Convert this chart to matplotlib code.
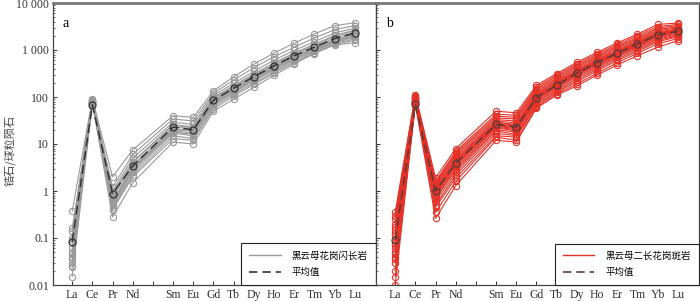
import matplotlib.pyplot as plt
import numpy as np
from matplotlib.ticker import FixedLocator, LogLocator, NullFormatter
from matplotlib.lines import Line2D

plt.rcParams['font.family'] = ['Liberation Serif', 'Noto Sans CJK SC', 'DejaVu Sans']

elements = ["La", "Ce", "Pr", "Nd", "Sm", "Eu", "Gd", "Tb", "Dy", "Ho", "Er", "Tm", "Yb", "Lu"]
positions = [0, 1, 2, 3, 5, 6, 7, 8, 9, 10, 11, 12, 13, 14]

# panel a: biotite granodiorite zircons
samples_a = [
    [0.37, 92, 2.0, 7.5, 40, 37, 135, 270, 500, 860, 1400, 2200, 3300, 3800],
    [0.16, 88, 1.2, 6.0, 34, 31, 120, 230, 420, 720, 1150, 1800, 2700, 3300],
    [0.14, 86, 1.0, 5.0, 29, 26, 108, 195, 350, 610, 980, 1500, 2300, 2900],
    [0.10, 84, 0.9, 4.2, 26, 23, 98, 175, 310, 530, 870, 1320, 2050, 2650],
    [0.09, 83, 0.8, 4.0, 25, 22, 93, 165, 295, 505, 830, 1260, 1950, 2550],
    [0.06, 82, 0.7, 3.5, 23, 21, 88, 155, 275, 470, 770, 1170, 1800, 2350],
    [0.05, 81, 0.6, 3.2, 21, 19, 82, 145, 258, 440, 720, 1080, 1660, 2180],
    [0.045, 80, 0.55, 3.0, 20, 19, 80, 142, 252, 430, 705, 1060, 1620, 2120],
    [0.04, 79, 0.52, 3.0, 19, 17, 76, 136, 242, 412, 682, 1010, 1560, 2020],
    [0.035, 78, 0.5, 2.8, 18, 16, 72, 130, 232, 392, 652, 980, 1500, 1950],
    [0.03, 77, 0.45, 2.5, 17, 15, 68, 124, 220, 372, 622, 940, 1450, 1850],
    [0.025, 76, 0.42, 2.2, 15, 13, 62, 115, 200, 342, 580, 880, 1380, 1720],
    [0.024, 75, 0.40, 2.0, 13, 12, 56, 105, 185, 320, 540, 830, 1320, 1600],
    [0.015, 73, 0.28, 1.5, 11, 10, 50, 90, 160, 290, 500, 860, 1280, 1430],
]
mean_a = [0.083, 68, 0.88, 3.4, 23, 20, 85, 155, 270, 460, 760, 1150, 1750, 2300]

# panel b: biotite monzogranite porphyry zircons
samples_b = [
    [0.35, 112, 1.9, 8.0, 50, 46, 178, 315, 550, 890, 1420, 2180, 3500, 3750],
    [0.30, 106, 1.6, 7.0, 43, 41, 162, 292, 505, 825, 1310, 2020, 3150, 3500],
    [0.25, 102, 1.5, 6.5, 39, 37, 150, 272, 472, 772, 1210, 1860, 2920, 3300],
    [0.20, 99, 1.4, 6.0, 36, 34, 140, 252, 442, 722, 1152, 1760, 2720, 3120],
    [0.17, 96, 1.3, 5.5, 33, 31, 130, 236, 412, 682, 1082, 1660, 2560, 2960],
    [0.15, 93, 1.2, 5.0, 31, 28, 121, 222, 382, 642, 1002, 1560, 2410, 2820],
    [0.13, 91, 1.15, 4.8, 29, 26, 115, 210, 362, 612, 962, 1500, 2310, 2720],
    [0.11, 89, 1.1, 4.5, 28, 25, 110, 200, 350, 590, 930, 1450, 2250, 2650],
    [0.09, 87, 1.0, 4.2, 27, 24, 105, 190, 340, 570, 900, 1400, 2200, 2600],
    [0.08, 86, 0.95, 4.0, 26, 23, 100, 185, 330, 550, 880, 1380, 2150, 2550],
    [0.07, 85, 0.9, 3.8, 25, 22, 98, 180, 320, 530, 850, 1350, 2100, 2500],
    [0.06, 83, 0.85, 3.6, 24, 21, 95, 175, 310, 520, 830, 1300, 2050, 2450],
    [0.05, 81, 0.8, 3.3, 23, 20, 90, 165, 300, 500, 800, 1250, 2000, 2400],
    [0.045, 79, 0.75, 3.0, 22, 19, 85, 160, 290, 480, 780, 1200, 1900, 2300],
    [0.04, 77, 0.7, 2.8, 20, 18, 80, 150, 270, 450, 740, 1150, 1800, 2200],
    [0.035, 76, 0.6, 2.5, 19, 16, 75, 140, 250, 420, 700, 1080, 1700, 2100],
    [0.03, 74, 0.5, 2.2, 17, 15, 70, 130, 230, 390, 650, 1000, 1600, 2000],
    [0.02, 73, 0.45, 1.9, 15, 14, 65, 125, 210, 360, 600, 930, 1500, 1900],
    [0.015, 71, 0.35, 1.6, 14, 12, 60, 115, 190, 320, 540, 850, 1350, 1750],
    [0.01, 69, 0.26, 1.3, 12, 11, 58, 110, 172, 292, 482, 752, 1150, 1580],
]
mean_b = [0.09, 70, 1.0, 3.9, 26, 23, 97, 180, 320, 540, 850, 1350, 2090, 2500]

panels = [
    ("a", samples_a, mean_a, "#9a9a9a", "#333333", "黑云母花岗闪长岩"),
    ("b", samples_b, mean_b, "#e53228", "#5a3a36", "黑云母二长花岗斑岩"),
]

fig = plt.figure(figsize=(7, 3.01), dpi=100)
ax_a = fig.add_axes([53 / 700, 16 / 301, 323 / 700, 282 / 301])
ax_b = fig.add_axes([376 / 700, 16 / 301, 323 / 700, 282 / 301])

for ax, (tag, samples, mean, col, mcol, name) in zip([ax_a, ax_b], panels):
    for row in samples:
        ax.plot(positions, row, color=col, lw=0.8, marker="o", ms=4.5,
                mfc="none", mec=col, mew=0.8, zorder=2)
    ax.plot(positions, mean, color=mcol, lw=1.1, ls=(0, (6, 3)), marker="o", ms=5,
            mfc="none", mec=mcol, mew=0.9, zorder=3)

    ax.set_yscale("log")
    ax.set_ylim(0.01, 10000)
    ax.set_xlim(-0.95, 15.05)
    ax.set_xticks(range(15))
    ax.set_xticklabels([elements[positions.index(i)] if i in positions else "" for i in range(15)])
    ax.yaxis.set_major_locator(FixedLocator([0.01, 0.1, 1, 10, 100, 1000, 10000]))
    ax.yaxis.set_minor_locator(LogLocator(base=10, subs=np.arange(2, 10), numticks=20))
    ax.yaxis.set_minor_formatter(NullFormatter())
    ax.tick_params(axis="both", which="major", direction="in", length=3, width=0.7,
                   colors="#333333", labelsize=8.5, pad=3)
    ax.tick_params(axis="y", which="minor", direction="in", length=1.5, width=0.5, colors="#333333")
    for s in ax.spines.values():
        s.set_color("#444444")
        s.set_linewidth(0.9)
    ax.spines["top"].set_color("#777777")
    ax.spines["top"].set_linewidth(2)

    ax.text(0.03, 0.95, tag, transform=ax.transAxes, fontsize=10, va="top", ha="left")

    handles = [Line2D([], [], color=col, lw=1.0),
               Line2D([], [], color=mcol, lw=1.2, ls=(0, (5, 3)))]
    leg = ax.legend(handles, [name, "平均值"], loc="lower right", borderaxespad=0,
                    fancybox=False, edgecolor="#222222", framealpha=1,
                    prop={"family": ["Noto Sans CJK SC"], "size": 6.8},
                    handlelength=3.3, labelspacing=0.75, borderpad=0.85, handletextpad=1.2)
    leg.get_frame().set_linewidth(0.8)

ax_a.set_yticklabels(["0.01", "0.1", "1", "10", "100", "1 000", "10 000"])
ax_b.set_yticklabels([])
fig.text(10 / 700, 0.5, "锆石/球粒陨石", family=["Noto Sans CJK SC"], fontsize=8,
         color="#444444", rotation=90, ha="center", va="center")

fig.savefig("out.png", dpi=100)
